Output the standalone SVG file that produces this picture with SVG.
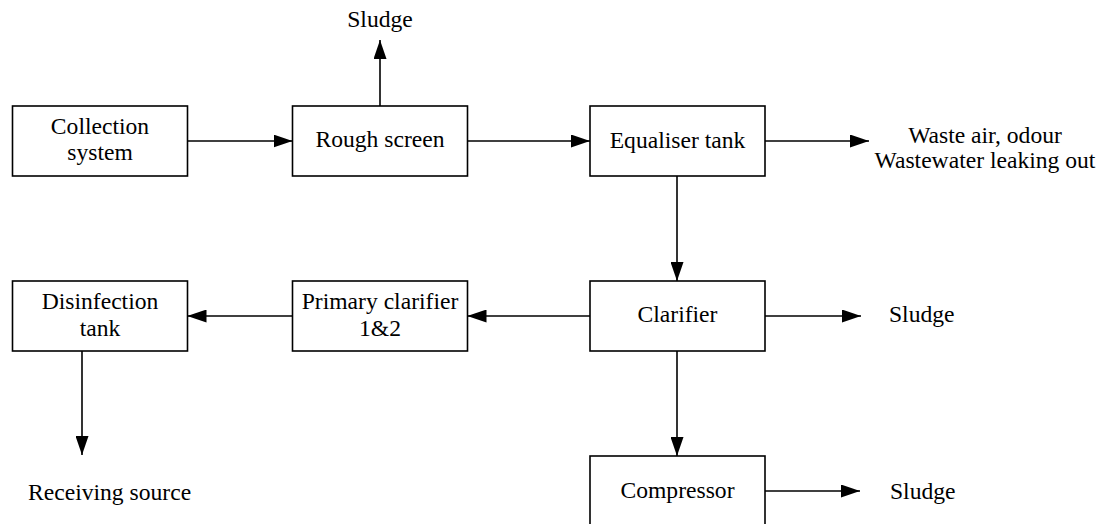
<svg xmlns="http://www.w3.org/2000/svg" width="1107" height="524" viewBox="0 0 1107 524">
  <style>
    .box { fill: #ffffff; stroke: #000000; stroke-width: 1.6; }
    .lbl { font-family: "Liberation Serif", "Times New Roman", serif; font-size: 23.6px; fill: #000000; }
    .mid { text-anchor: middle; }
    .conn { stroke: #000000; stroke-width: 1.6; fill: none; marker-end: url(#arrow); }
  </style>
  <defs>
    <marker id="arrow" viewBox="0 0 19 13" refX="19" refY="6.5" markerWidth="19" markerHeight="13" markerUnits="userSpaceOnUse" orient="auto">
      <path d="M0,0 L19,6.5 L0,13 Z" fill="#000000"/>
    </marker>
  </defs>
  <rect width="1107" height="524" fill="#ffffff"/>

  <!-- connectors -->
  <g id="connectors">
    <line class="conn" x1="187.5" y1="141" x2="292.5" y2="141"/>
    <line class="conn" x1="380" y1="106" x2="380" y2="40"/>
    <line class="conn" x1="467.5" y1="141" x2="590" y2="141"/>
    <line class="conn" x1="765" y1="141" x2="869" y2="141"/>
    <line class="conn" x1="677" y1="176" x2="677" y2="281"/>
    <line class="conn" x1="590" y1="316" x2="467.5" y2="316"/>
    <line class="conn" x1="292.5" y1="316" x2="187.5" y2="316"/>
    <line class="conn" x1="82" y1="351" x2="82" y2="455"/>
    <line class="conn" x1="765" y1="316" x2="861" y2="316"/>
    <line class="conn" x1="677" y1="351" x2="677" y2="456"/>
    <line class="conn" x1="765" y1="491" x2="860" y2="491"/>
  </g>

  <!-- process units -->
  <g id="collection-system">
    <rect class="box" x="12.5" y="106" width="175" height="70"/>
    <text class="lbl mid" x="100" y="134">Collection</text>
    <text class="lbl mid" x="100" y="160">system</text>
  </g>
  <g id="rough-screen">
    <rect class="box" x="292.5" y="106" width="175" height="70"/>
    <text class="lbl mid" x="380" y="147">Rough screen</text>
  </g>
  <g id="equaliser-tank">
    <rect class="box" x="590" y="106" width="175" height="70"/>
    <text class="lbl mid" x="677.5" y="148">Equaliser tank</text>
  </g>
  <g id="disinfection-tank">
    <rect class="box" x="12.5" y="281" width="175" height="70"/>
    <text class="lbl mid" x="100" y="309">Disinfection</text>
    <text class="lbl mid" x="100" y="336">tank</text>
  </g>
  <g id="primary-clarifier">
    <rect class="box" x="292.5" y="281" width="175" height="70"/>
    <text class="lbl mid" x="380" y="309">Primary clarifier</text>
    <text class="lbl mid" x="380" y="336">1&amp;2</text>
  </g>
  <g id="clarifier">
    <rect class="box" x="590" y="281" width="175" height="70"/>
    <text class="lbl mid" x="677.5" y="322">Clarifier</text>
  </g>
  <g id="compressor">
    <rect class="box" x="590" y="456" width="175" height="80"/>
    <text class="lbl mid" x="677.5" y="498">Compressor</text>
  </g>

  <!-- outputs -->
  <g id="sludge-screen">
    <text class="lbl mid" x="380" y="27">Sludge</text>
  </g>
  <g id="waste-air">
    <text class="lbl mid" x="985" y="143">Waste air, odour</text>
    <text class="lbl mid" x="985" y="168">Wastewater leaking out</text>
  </g>
  <g id="sludge-clarifier">
    <text class="lbl" x="889" y="322">Sludge</text>
  </g>
  <g id="sludge-compressor">
    <text class="lbl" x="890" y="499">Sludge</text>
  </g>
  <g id="receiving-source">
    <text class="lbl" x="28" y="500">Receiving source</text>
  </g>
</svg>
